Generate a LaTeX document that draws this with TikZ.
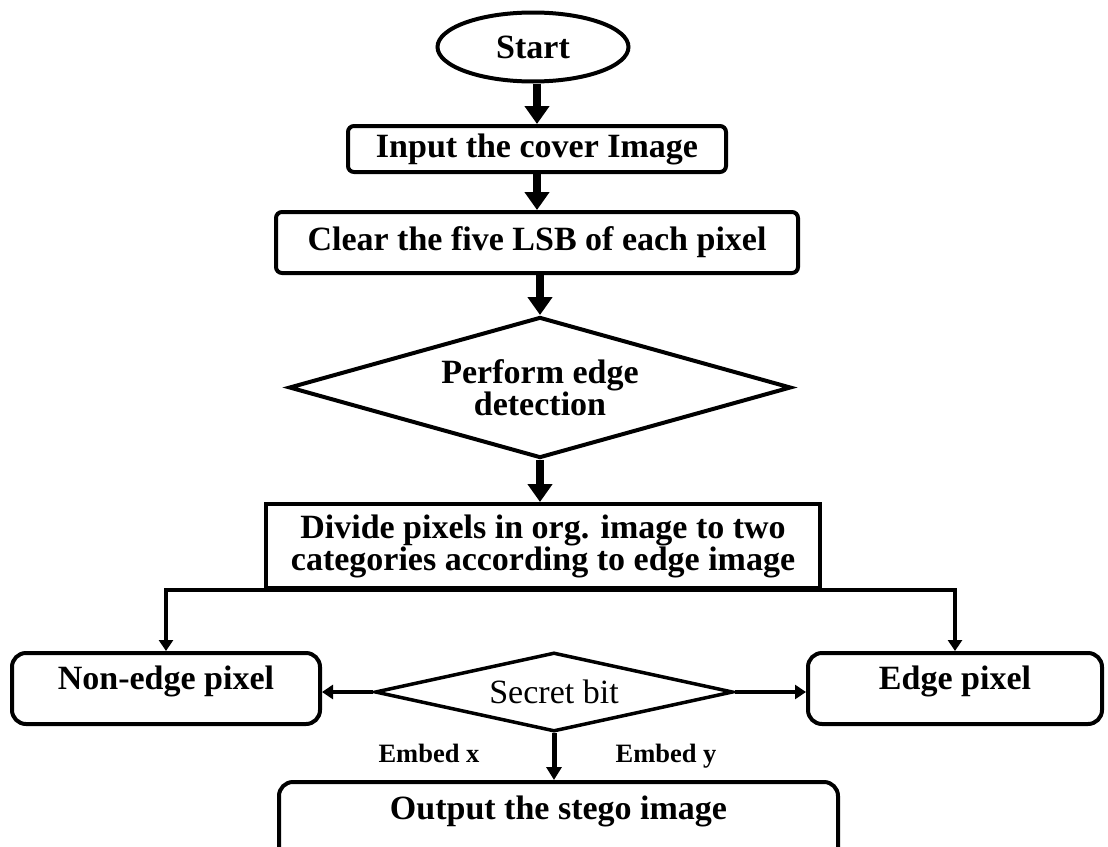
\documentclass[tikz,border=0pt]{standalone}
\usepackage{fontspec}
\setmainfont{Liberation Serif}
\usetikzlibrary{arrows.meta,shapes.geometric}
\begin{document}
\begin{tikzpicture}[x=1pt,y=-1pt,
  every node/.style={font=\fontsize{34}{32}\selectfont\bfseries, inner sep=0pt},
  rbox/.style={draw, line width=4pt, rounded corners=6pt},
  bigbox/.style={draw, line width=4pt, rounded corners=14pt, text height=23pt, text depth=21pt},
  sbox/.style={draw, line width=4pt, align=center},
  dec/.style={diamond, draw, line width=4pt},
  thickarrow/.style={line width=8pt, -{Triangle[width=24pt,length=18pt]}},
  sidearrow/.style={line width=4pt, -{Triangle[width=14pt,length=11pt]}},
  secarrow/.style={line width=3.5pt, -{Triangle[width=14pt,length=11pt]}},
  downarrow/.style={line width=5pt, -{Triangle[width=15pt,length=13pt]}},
  lbl/.style={font=\fontsize{26.5}{30}\selectfont\bfseries}
]
\useasboundingbox (0,0) rectangle (1108,846);
\clip (0,0) rectangle (1108,846);

\node[ellipse, draw, line width=4pt, minimum width=191pt, minimum height=69pt] (start) at (533,47) {Start};
\node[rbox, minimum width=378pt, minimum height=46pt] (input) at (537,149) {Input the cover Image};
\node[rbox, minimum width=522pt, minimum height=61pt] (clear) at (537,242.5) {Clear the five LSB of each pixel};
\node[dec, aspect=3.56, minimum width=502pt, minimum height=141pt, align=center] (detect) at (540,387.5) {Perform edge\\detection};
\node[sbox, minimum width=554pt, minimum height=84pt] (divide) at (543,546) {Divide pixels in org. image to two\\categories according to edge image};
\node[bigbox, minimum width=308pt, minimum height=71pt] (nonedge) at (166,688.5) {Non-edge pixel};
\node[bigbox, minimum width=294pt, minimum height=71pt] (edgepx) at (955,688.5) {Edge pixel};
\node[dec, aspect=4.53, line width=3.5pt, minimum width=358pt, minimum height=79pt, font=\fontsize{34}{32}\selectfont\mdseries] (secret) at (554,692) {Secret bit};
\node[bigbox, text height=23pt, text depth=29pt, minimum width=559pt, minimum height=80pt] (output) at (558.5,822) {Output the stego image};
\node[lbl] (ex) at (429,753) {Embed x};
\node[lbl] (ey) at (666,756) {Embed y};

\draw[thickarrow] (input.north |- start.south) -- (input.north);
\draw[thickarrow] (input.south) -- (input.south |- clear.north);
\draw[thickarrow] (detect.north |- clear.south) -- (detect.north);
\draw[thickarrow] (detect.south) -- (detect.south |- divide.north);
\draw[sidearrow] (divide.south) -| (nonedge.north);
\draw[sidearrow] (divide.south) -| (edgepx.north);
\draw[secarrow] (secret.west) -- (secret.west -| nonedge.east);
\draw[secarrow] (secret.east) -- (secret.east -| edgepx.west);
\draw[downarrow] (secret.south) -- (secret.south |- output.north);
\end{tikzpicture}
\end{document}
